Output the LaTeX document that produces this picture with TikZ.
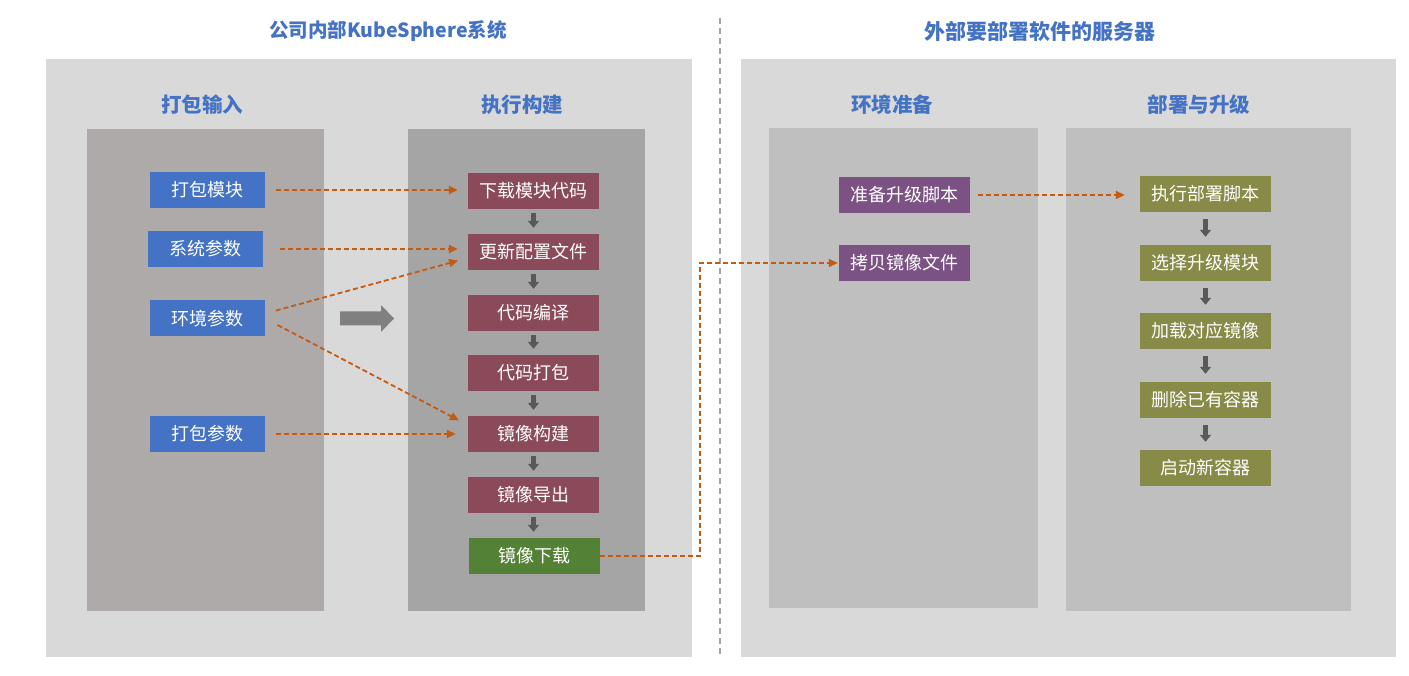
\documentclass[tikz,border=0pt]{standalone}
\usepackage{fontspec}
\setmainfont{Noto Sans CJK SC}
\usetikzlibrary{arrows.meta}
\definecolor{panel}{HTML}{D9D9D9}
\definecolor{colA}{HTML}{AEAAAA}
\definecolor{colB}{HTML}{A5A5A5}
\definecolor{colC}{HTML}{BFBFBF}
\definecolor{tblue}{HTML}{4472C4}
\definecolor{nblue}{HTML}{4472C4}
\definecolor{nred}{HTML}{8A4A5A}
\definecolor{ngreen}{HTML}{538135}
\definecolor{npurple}{HTML}{7B5283}
\definecolor{nolive}{HTML}{878B47}
\definecolor{orng}{HTML}{C55A11}
\definecolor{darr}{HTML}{595959}
\tikzset{
  box/.style={minimum width=131pt,minimum height=36pt,inner sep=0pt,text=white,font=\fontsize{18}{20}\selectfont},
  bluebox/.style={box,fill=nblue,minimum width=115pt},
  redbox/.style={box,fill=nred},
  greenbox/.style={box,fill=ngreen},
  purplebox/.style={box,fill=npurple},
  olivebox/.style={box,fill=nolive},
  ttl/.style={text=tblue,font=\fontsize{20.5}{23}\selectfont\bfseries},
  dashar/.style={draw=orng,line width=1.8pt,dash pattern=on 5pt off 3pt,-{Triangle[length=9pt,width=8pt]}},
  downar/.style={draw=darr,line width=5pt,-{Triangle[length=7pt,width=11pt]}},
}
\begin{document}
\begin{tikzpicture}[x=1pt,y=-1pt]
\useasboundingbox (0,0) rectangle (1409,676);
\fill[white] (0,0) rectangle (1409,676);
% panels
\fill[panel] (46,59) rectangle (692,657);
\fill[panel] (741,59) rectangle (1396,657);
\fill[colA] (87,129) rectangle (324,611);
\fill[colB] (408,129) rectangle (645,611);
\fill[colC] (769,128) rectangle (1038,608);
\fill[colC] (1066,128) rectangle (1351,611);
\draw[draw=colB,line width=1.5pt,dash pattern=on 6pt off 4pt] (720,18) -- (720,657);
% titles
\node[ttl,font=\fontsize{19.5}{22}\selectfont\bfseries] (t1) at (388,31) {公司内部KubeSphere系统};
\node[ttl,font=\fontsize{21}{23}\selectfont\bfseries] (t2) at (1040,31) {外部要部署软件的服务器};
\node[ttl] (h1) at (202,105) {打包输入};
\node[ttl] (h2) at (522,105) {执行构建};
\node[ttl] (h3) at (892,105) {环境准备};
\node[ttl] (h4) at (1199,105) {部署与升级};
% input nodes
\node[bluebox] (a1) at (207.5,190) {打包模块};
\node[bluebox] (a2) at (205.5,249) {系统参数};
\node[bluebox] (a3) at (207.5,318.5) {环境参数};
\node[bluebox] (a4) at (207.5,434) {打包参数};
% build nodes
\node[redbox] (b1) at (533.5,191) {下载模块代码};
\node[redbox] (b2) at (533.5,252) {更新配置文件};
\node[redbox] (b3) at (533.5,313) {代码编译};
\node[redbox] (b4) at (533.5,373) {代码打包};
\node[redbox] (b5) at (533.5,434) {镜像构建};
\node[redbox] (b6) at (533.5,495) {镜像导出};
\node[greenbox] (b7) at (534.5,556) {镜像下载};
% env nodes
\node[purplebox] (c1) at (904.5,195) {准备升级脚本};
\node[purplebox] (c2) at (904.5,263) {拷贝镜像文件};
% deploy nodes
\node[olivebox] (d1) at (1205.5,194) {执行部署脚本};
\node[olivebox] (d2) at (1205.5,263) {选择升级模块};
\node[olivebox] (d3) at (1205.5,331) {加载对应镜像};
\node[olivebox] (d4) at (1205.5,400) {删除已有容器};
\node[olivebox] (d5) at (1205.5,468) {启动新容器};
% down arrows
\foreach \u/\v in {b1/b2,b2/b3,b3/b4,b4/b5,b5/b6,b6/b7}
  \draw[downar,shorten <=4pt,shorten >=6pt] (\u.south) -- (\u.south |- \v.north);
\foreach \u/\v in {d1/d2,d2/d3,d3/d4,d4/d5}
  \draw[downar,shorten <=7pt,shorten >=8pt] (\u.south) -- (\u.south |- \v.north);
% big arrow
\fill[black!50] (340,311.5) -- (381,311.5) -- (381,305) -- (394,318.5) -- (381,332) -- (381,325.5) -- (340,325.5) -- cycle;
% dashed connectors
\draw[dashar,shorten <=11pt,shorten >=10pt] (a1.east) -- (a1.east -| b1.west);
\draw[dashar,shorten <=17pt,shorten >=10pt] (a2.east) -- (a2.east -| b2.west);
\draw[dashar,shorten <=11pt,shorten >=10pt] ([yshift=5pt]a3.east) -- ([yshift=-6pt]b2.west);
\draw[dashar,shorten <=14pt,shorten >=10pt] (a3.east) -- ([yshift=9pt]b5.west);
\draw[dashar,shorten <=11pt,shorten >=12pt] (a4.east) -- (b5.west);
\draw[dashar,shorten >=1pt] (b7.east) -- ++(100,0) |- (c2.west);
\draw[dashar,shorten <=8pt,shorten >=15pt] (c1.east) -- (c1.east -| d1.west);
\end{tikzpicture}
\end{document}
